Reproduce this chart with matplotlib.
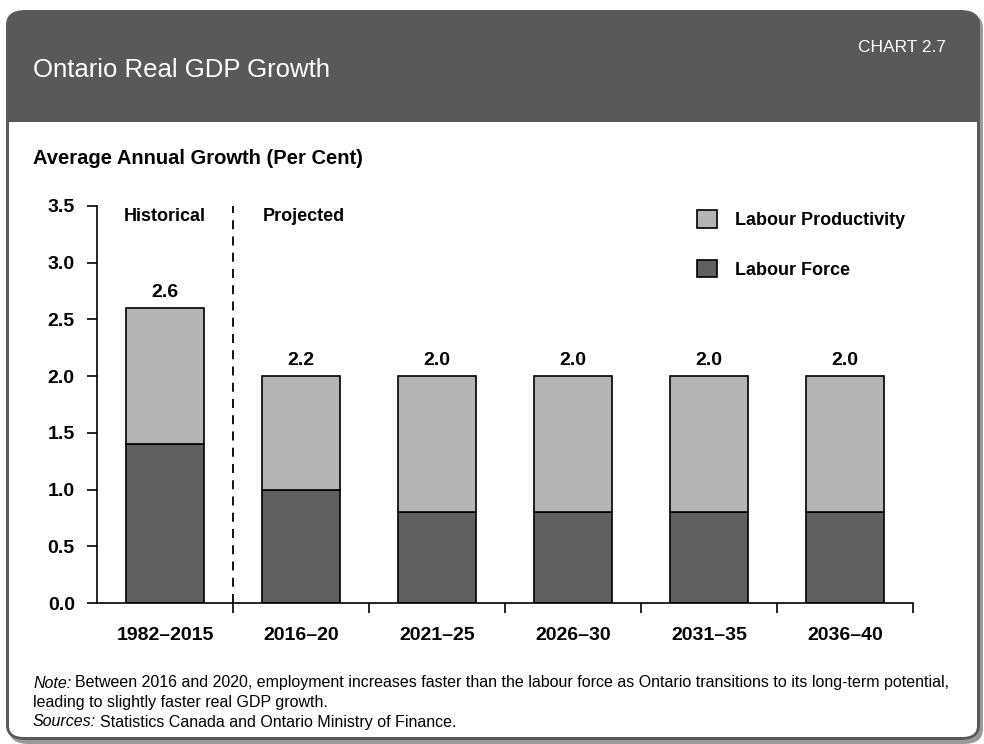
import matplotlib.pyplot as plt
from matplotlib.patches import FancyBboxPatch, Rectangle
import numpy as np

categories = ['1982–2015', '2016–20', '2021–25', '2026–30', '2031–35', '2036–40']
labour_force = [1.4, 1.0, 0.8, 0.8, 0.8, 0.8]
labour_productivity = [1.2, 1.0, 1.2, 1.2, 1.2, 1.2]
total_labels = ['2.6', '2.2', '2.0', '2.0', '2.0', '2.0']
yticks = [0.0, 0.5, 1.0, 1.5, 2.0, 2.5, 3.0, 3.5]

plt.rcParams['font.family'] = ['Liberation Sans', 'DejaVu Sans']

W, H = 984, 744
fig = plt.figure(figsize=(W / 100, H / 100), dpi=100)

def fx(px):
    return px / W

def fy(py):
    return 1 - py / H

header_col = '#595959'
lf_col = '#606060'
lp_col = '#b4b4b4'

# frame: shadow, outer box, header, white body
fig.patches.append(FancyBboxPatch((fx(9), fy(744)), fx(974), 731 / H,
                                  boxstyle='round,pad=0,rounding_size=0.02',
                                  transform=fig.transFigure, fc='#9a9a9a', ec='none', zorder=-3))
fig.patches.append(FancyBboxPatch((fx(6), fy(740)), fx(974), 730 / H,
                                  boxstyle='round,pad=0,rounding_size=0.02',
                                  transform=fig.transFigure, fc=header_col, ec='none', zorder=-2))
fig.patches.append(Rectangle((fx(9), fy(715)), fx(968), 593 / H,
                             transform=fig.transFigure, fc='white', ec='none', zorder=-1))
fig.patches.append(FancyBboxPatch((fx(9), fy(737)), fx(968), 60 / H,
                                  boxstyle='round,pad=0,rounding_size=0.015',
                                  transform=fig.transFigure, fc='white', ec='none', zorder=-1))

fig.text(fx(33), fy(70), 'Ontario Real GDP Growth', color='white', fontsize=18.5,
         va='center', ha='left')
fig.text(fx(946), fy(47), 'CHART 2.7', color='white', fontsize=12.5,
         va='center', ha='right')
fig.text(fx(33), fy(158), 'Average Annual Growth (Per Cent)', fontsize=14.5,
         fontweight='bold', va='center', ha='left')

ax = fig.add_axes([fx(97), fy(603), fx(913) - fx(97), fy(206) - fy(603)])
ax.patch.set_alpha(0)
x = np.arange(len(categories))
width = 0.57
ax.bar(x, labour_force, width, color=lf_col, edgecolor='black', linewidth=1.2,
       label='Labour Force', zorder=2)
ax.bar(x, labour_productivity, width, bottom=labour_force, color=lp_col,
       edgecolor='black', linewidth=1.2, label='Labour Productivity', zorder=2)

tops = np.array(labour_force) + np.array(labour_productivity)
for xi, t, lab in zip(x, tops, total_labels):
    ax.text(xi, t + 0.06, lab, ha='center', va='bottom', fontsize=14,
            fontweight='bold')

ax.set_xlim(-0.5, len(categories) - 0.5)
ax.set_ylim(0, 3.5)
ax.set_yticks(yticks)
ax.set_yticklabels([f'{v:.1f}' for v in yticks], fontsize=14, fontweight='bold')
ax.set_xticks(x)
ax.set_xticklabels(categories, fontsize=14, fontweight='bold')
ax.tick_params(axis='x', length=0, pad=17)
ax.set_xticks(np.arange(len(categories)) + 0.5, minor=True)
ax.tick_params(axis='x', which='minor', length=7, width=1.2, direction='out')
ax.tick_params(axis='y', length=7, width=1.2, direction='out', pad=9)
for s in ['top', 'right']:
    ax.spines[s].set_visible(False)
for s in ['left', 'bottom']:
    ax.spines[s].set_linewidth(1.2)

ax.axvline(0.5, color='black', linestyle=(0, (5, 4)), linewidth=1.3, zorder=1)
ax.text(0, 3.41, 'Historical', ha='center', va='center', fontsize=13, fontweight='bold')
ax.text(0.72, 3.41, 'Projected', ha='left', va='center', fontsize=13, fontweight='bold')

handles, labels = ax.get_legend_handles_labels()
leg = ax.legend(handles[::-1], labels[::-1], loc='upper right', bbox_to_anchor=(1.01, 1.03),
                frameon=False, prop={'weight': 'bold', 'size': 13},
                handlelength=1.1, handleheight=1.1, labelspacing=1.7, handletextpad=1.0)

renderer = fig.canvas.get_renderer()

def two_part(py, italic, rest, size=11.5):
    t = fig.text(fx(33), fy(py), italic, fontsize=size, style='italic', va='center', ha='left')
    bb = t.get_window_extent(renderer)
    fig.text(bb.x1 / W + fx(4), fy(py), rest, fontsize=size, va='center', ha='left')

two_part(683, 'Note:', 'Between 2016 and 2020, employment increases faster than the labour force as Ontario '
         'transitions to its long-term potential,')
fig.text(fx(33), fy(703), 'leading to slightly faster real GDP growth.', fontsize=11.5,
         va='center', ha='left')
two_part(722, 'Sources:', 'Statistics Canada and Ontario Ministry of Finance.')

fig.savefig('out.png', dpi=100)
